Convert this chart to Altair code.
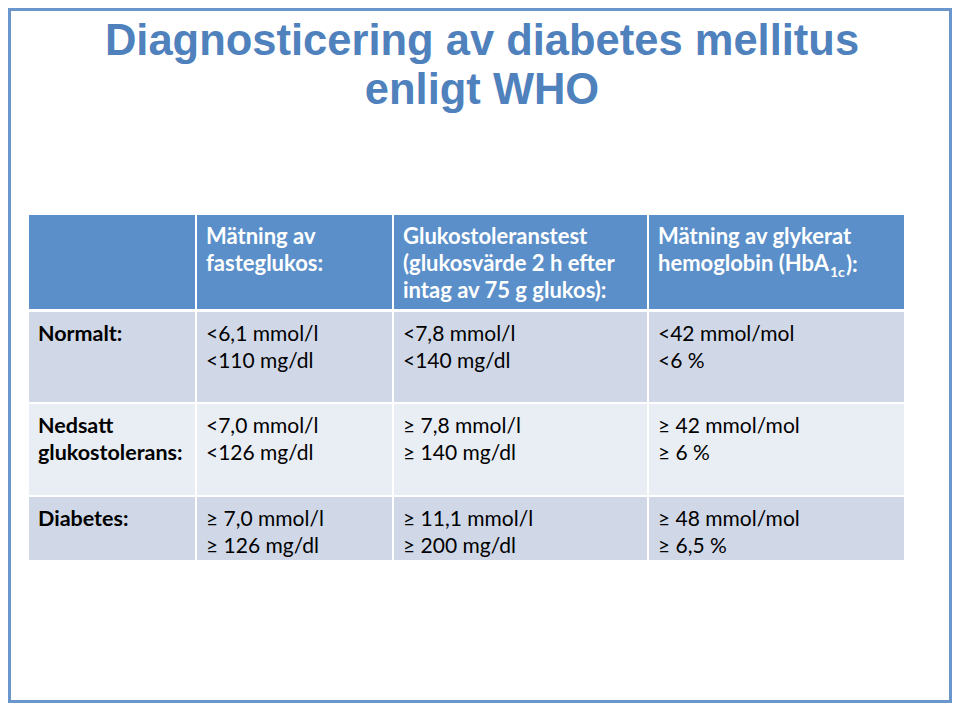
import altair as alt
import pandas as pd

# ---------------- data ----------------
title_lines = ["Diagnosticering av diabetes mellitus", "enligt WHO"]
row_labels = ["Normalt:", "Nedsatt\nglukostolerans:", "Diabetes:"]
column_headers = [
    "Mätning av\nfasteglukos:",
    "Glukostoleranstest\n(glukosvärde 2 h efter\nintag av 75 g glukos):",
    "Mätning av glykerat\nhemoglobin (HbA",
]
hba1c_sub = "1c"
hba1c_tail = "):"
fasting = ["<6,1 mmol/l\n<110 mg/dl", "<7,0 mmol/l\n<126 mg/dl", "≥ 7,0 mmol/l\n≥ 126 mg/dl"]
ogtt = ["<7,8 mmol/l\n<140 mg/dl", "≥ 7,8 mmol/l\n≥ 140 mg/dl", "≥ 11,1 mmol/l\n≥ 200 mg/dl"]
hba1c = ["<42 mmol/mol\n<6 %", "≥ 42 mmol/mol\n≥ 6 %", "≥ 48 mmol/mol\n≥ 6,5 %"]

# ---------------- layout (page pixel coordinates) ----------------
col_left = [29, 197, 394, 649]
col_right = [195, 392, 647, 904]
row_top = [215, 312, 404, 497]
row_bottom = [309, 402, 495, 560]
row_kind = ["header", "band", "light", "band"]
fill_domain = ["header", "band", "light"]
fill_range = ["#5B8FC9", "#D0D8E8", "#E9EDF4"]
pad_x = 9
first_baseline = 29
line_h = 27
font = "Lato"
fsize = 21
blue = "#4F81BD"

cells = []
for r in range(4):
    for c in range(4):
        cells.append(dict(x=col_left[c], x2=col_right[c], y=row_top[r], y2=row_bottom[r], kind=row_kind[r]))
cells_df = pd.DataFrame(cells)

texts = []
for c, h in enumerate(column_headers, start=1):
    texts.append(dict(x=col_left[c] + pad_x, y=row_top[0] + first_baseline, t=h, role="head"))
body_cols = [fasting, ogtt, hba1c]
for r in range(3):
    texts.append(dict(x=col_left[0] + pad_x, y=row_top[r + 1] + first_baseline, t=row_labels[r], role="label"))
    for c in range(3):
        texts.append(dict(x=col_left[c + 1] + pad_x, y=row_top[r + 1] + first_baseline, t=body_cols[c][r], role="body"))
text_df = pd.DataFrame(texts)

title_df = pd.DataFrame({"x": [482, 482], "y": [55, 104], "t": title_lines})
sub_df = pd.DataFrame({"x": [830], "y": [277], "t": [hba1c_sub]})
tail_df = pd.DataFrame({"x": [846], "y": [272], "t": [hba1c_tail]})
frame_df = pd.DataFrame({"x": [9.5], "x2": [950.5], "y": [9.5], "y2": [701.5]})

W, H = 944, 695
xs = alt.Scale(domain=[8, 8 + W], nice=False, zero=False)
ys = alt.Scale(domain=[8 + H, 8], nice=False, zero=False)
X = lambda f="x": alt.X(f"{f}:Q", scale=xs, axis=None)
Y = lambda f="y": alt.Y(f"{f}:Q", scale=ys, axis=None)

frame = alt.Chart(frame_df).mark_rect(filled=False, stroke="#6A96CB", strokeWidth=3).encode(
    x=X(), x2="x2:Q", y=Y(), y2="y2:Q")

rects = alt.Chart(cells_df).mark_rect().encode(
    x=X(), x2="x2:Q", y=Y(), y2="y2:Q",
    fill=alt.Fill("kind:N", scale=alt.Scale(domain=fill_domain, range=fill_range), legend=None))

base_text = dict(align="left", baseline="alphabetic", lineBreak="\n", lineHeight=line_h, font=font)
head = alt.Chart(text_df).transform_filter(alt.datum.role == "head").mark_text(
    color="white", fontWeight="bold", fontSize=22, **base_text).encode(x=X(), y=Y(), text="t:N")
label = alt.Chart(text_df).transform_filter(alt.datum.role == "label").mark_text(
    color="black", fontWeight="bold", fontSize=21.5, **base_text).encode(x=X(), y=Y(), text="t:N")
body = alt.Chart(text_df).transform_filter(alt.datum.role == "body").mark_text(
    color="black", fontWeight="normal", fontSize=fsize, **base_text).encode(x=X(), y=Y(), text="t:N")
sub = alt.Chart(sub_df).mark_text(align="left", baseline="alphabetic", font=font, fontSize=14,
                                  fontWeight="bold", color="white").encode(x=X(), y=Y(), text="t:N")
tail = alt.Chart(tail_df).mark_text(align="left", baseline="alphabetic", font=font, fontSize=22,
                                    fontWeight="bold", color="white").encode(x=X(), y=Y(), text="t:N")
title = alt.Chart(title_df).mark_text(align="center", baseline="alphabetic", font="Liberation Sans",
                                      fontSize=43.5, fontWeight="bold", color=blue).encode(x=X(), y=Y(), text="t:N")

chart = alt.layer(frame, rects, head, label, body, sub, tail, title).properties(
    width=W, height=H, padding=0, autosize="none", background="white"
).configure_view(strokeWidth=0)

chart.save("out.html", embed_options={"renderer": "svg", "actions": False})
